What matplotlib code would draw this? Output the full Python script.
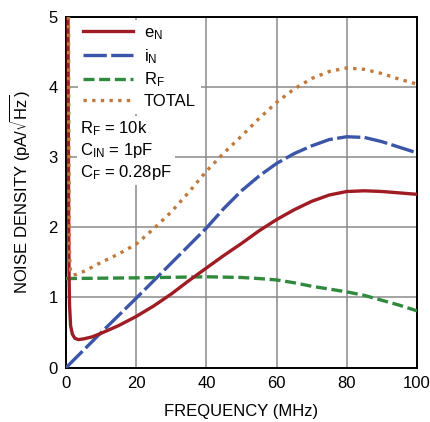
import numpy as np
import matplotlib
matplotlib.use("Agg")
import matplotlib.pyplot as plt

plt.rcParams['font.family'] = ['Liberation Sans', 'DejaVu Sans']
plt.rcParams['mathtext.fontset'] = 'dejavusans'

# valeurs (MHz, pA/sqrt(Hz))
f_en = [0.55, 0.65, 0.75, 0.85, 1.0, 1.3, 1.8, 2.5, 3.5, 5, 7.5, 10, 15, 20, 25, 30, 35, 40,
        45, 50, 55, 60, 65, 70, 75, 80, 85, 90, 95, 100]
en = [5.6, 3.6, 2.2, 1.4, 0.9, 0.6, 0.48, 0.42, 0.40, 0.41, 0.44, 0.49, 0.60, 0.73, 0.88, 1.05, 1.24, 1.42,
      1.60, 1.77, 1.95, 2.11, 2.25, 2.37, 2.46, 2.51, 2.52, 2.51, 2.49, 2.47]

f_in = [0, 10, 20, 30, 40, 45, 50, 55, 60, 65, 70, 75, 80, 85, 90, 95, 100]
i_n = [0, 0.50, 0.99, 1.49, 1.99, 2.27, 2.52, 2.73, 2.91, 3.05, 3.16, 3.25, 3.29, 3.28, 3.22, 3.14, 3.06]

f_rf = [0, 20, 40, 50, 55, 60, 65, 70, 75, 80, 85, 90, 95, 100]
rf = [1.27, 1.28, 1.295, 1.285, 1.27, 1.25, 1.21, 1.16, 1.12, 1.08, 1.03, 0.96, 0.89, 0.81]

f_tot = [0.7, 0.8, 0.9, 1.0, 1.3, 2, 3, 5, 10, 15, 20, 25, 30, 35, 40, 45, 50, 55, 60, 65, 70,
         75, 80, 85, 90, 95, 100]
total = [5.6, 3.5, 2.2, 1.6, 1.38, 1.32, 1.33, 1.37, 1.50, 1.62, 1.76, 1.98, 2.22, 2.50, 2.80, 3.06, 3.30,
         3.55, 3.78, 3.97, 4.12, 4.22, 4.27, 4.25, 4.19, 4.11, 4.04]

red = '#a01c24'
blue = '#3b55a8'
green = '#2f8a3e'
orange = '#c07a3c'
fs = 12

fig = plt.figure(figsize=(4.3, 4.22), dpi=100)
ax = fig.add_axes([0.1535, 0.1287, 0.8163, 0.8317])

lw = 2.4
ax.plot(f_en, en, color=red, lw=lw, label=r'$\mathregular{e_N}$', zorder=5)
ax.plot(f_in, i_n, color=blue, lw=lw, dashes=(7, 1.3), label=r'$\mathregular{i_N}$', zorder=4)
ax.plot(f_rf, rf, color=green, lw=lw, dashes=(3.3, 1.4), label=r'$\mathregular{R_F}$', zorder=4)
ax.plot(f_tot, total, color=orange, lw=lw, dashes=(1, 1.6), label='TOTAL', zorder=6)

ax.set_xlim(0, 100)
ax.set_ylim(0, 5)
ax.set_xticks([0, 20, 40, 60, 80, 100])
ax.set_yticks([0, 1, 2, 3, 4, 5])
ax.grid(True, color='#8a8a8a', lw=1.1)
ax.set_axisbelow(True)
ax.tick_params(length=0, labelsize=fs, pad=6)
for s in ax.spines.values():
    s.set_linewidth(1.4)

ax.set_xlabel('FREQUENCY (MHz)', fontsize=fs, labelpad=9)
ax.set_ylabel(r'NOISE DENSITY (pA/$\sqrt{\mathregular{Hz}}$)', fontsize=fs, labelpad=12)

leg = ax.legend(loc='upper left', bbox_to_anchor=(0.034, 0.99), borderaxespad=0, fontsize=fs,
                handlelength=3.0, handletextpad=0.66, labelspacing=0.3, borderpad=0.3, frameon=True)
leg.get_frame().set_facecolor('white')
leg.get_frame().set_edgecolor('none')
leg.get_frame().set_alpha(1)
leg.set_zorder(3)

ax.text(0.04, 0.709, '$\\mathregular{R_F}$ = 10k\n$\\mathregular{C_{IN}}$ = 1pF\n$\\mathregular{C_F}$ = 0.28pF',
        transform=ax.transAxes, fontsize=fs, va='top', ha='left', linespacing=1.22,
        bbox=dict(facecolor='white', edgecolor='none', pad=2), zorder=3)

fig.savefig('out.png', dpi=100)
